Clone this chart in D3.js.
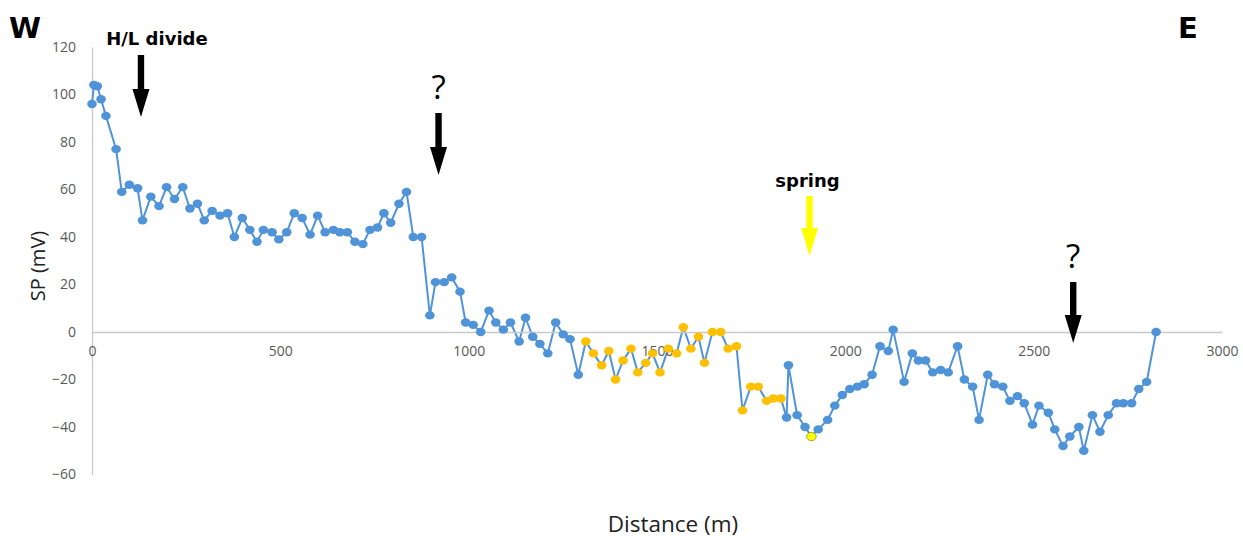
<!DOCTYPE html>
<html><head><meta charset="utf-8">
<script src="https://cdn.jsdelivr.net/npm/d3@7/dist/d3.min.js"></script>
<style>
html,body{margin:0;padding:0;background:#fff;}
svg{display:block;}
</style></head>
<body>
<svg id="chart" width="1243" height="539"></svg>
<script>
// ---- data ----
const distance = [0,5,14,24,37,64,79,99,121,134,156,178,198,219,241,260,280,298,319,340,360,378,399,419,438,455,478,496,517,537,558,579,599,619,641,658,678,698,719,738,758,775,793,815,835,853,875,897,912,935,955,977,992,1012,1032,1054,1072,1092,1111,1134,1151,1170,1189,1210,1231,1251,1269,1291,1311,1331,1353,1372,1390,1410,1431,1449,1470,1488,1508,1530,1552,1570,1590,1610,1626,1647,1669,1689,1711,1727,1749,1769,1791,1809,1829,1844,1849,1872,1893,1910,1928,1953,1972,1992,2012,2032,2050,2071,2092,2114,2127,2156,2178,2194,2213,2232,2253,2273,2298,2316,2338,2355,2378,2396,2418,2437,2457,2475,2497,2514,2539,2556,2578,2596,2620,2633,2656,2676,2698,2720,2738,2760,2779,2800,2825];
const sp = [96,104,103.5,98,91,77,59,62,60.5,47,57,53,61,56,61,52,54,47,51,49,50,40,48,43,38,43,42,39,42,50,48,41,49,42,43,42,42,38,37,43,44,50,46,54,59,40,40,7,21,21,23,17,4,3,0,9,4,1,4,-4,6,-2,-5,-9,4,-1,-3,-18,-4,-9,-14,-8,-20,-12,-7,-17,-13,-9,-17,-7,-9,2,-7,-2,-13,0,0,-7,-6,-33,-23,-23,-29,-28,-28,-36,-14,-35,-40,-44,-41,-37,-31,-26.5,-24,-23,-22,-18,-6,-8,1,-21,-9,-12,-12,-17,-16,-17,-6,-20,-23,-37,-18,-22,-23,-29,-27,-30,-39,-31,-34,-41,-48,-44,-40,-50,-35,-42,-35,-30,-30,-30,-24,-21,0];
// marker group per point: 'b' blue, 'o' orange section, 'y' spring point
const markerGroup = distance.map((d,i)=> i===99 ? 'y' : (i>=68 && i<=94 ? 'o' : 'b'));
const xTicks = [0,500,1000,1500,2000,2500,3000];
const yTicks = [-60,-40,-20,0,20,40,60,80,100,120];
const annotations = [
  {label:"H/L divide", x:130, kind:"bold", color:"#000"},
  {label:"?", x:920, kind:"q", color:"#000"},
  {label:"spring", x:1905, kind:"bold", color:"#ffff00"},
  {label:"?", x:2605, kind:"q", color:"#000"}
];

// ---- drawing ----
const svg = d3.select("#chart");
const x = d3.scaleLinear().domain([0,3000]).range([92,1222]);
const y = d3.scaleLinear().domain([-60,120]).range([474.5,47]);

const blue = "#4f93d8";
const markerFill = {b:blue, o:"#ffc000", y:"#ffff00"};
const tickFont = "'Open Sans', sans-serif";

// y axis
const yAxis = svg.append("g").attr("transform",`translate(${x(0)},0)`)
  .call(d3.axisLeft(y).tickValues(yTicks).tickSize(0).tickPadding(16).tickFormat(d3.format("d")));
yAxis.select(".domain").attr("stroke","#c9c9c9").attr("stroke-width",1.3);
yAxis.selectAll("text").attr("font-family",tickFont).attr("font-size",14).attr("fill","#595959");

// series line
const pts = distance.map((d,i)=>({d, v:sp[i], g:markerGroup[i]}));
svg.append("path").datum(pts)
  .attr("fill","none").attr("stroke",blue).attr("stroke-width",2)
  .attr("d", d3.line().x(p=>x(p.d)).y(p=>y(p.v)));

// x axis at y=0
const xAxis = svg.append("g").attr("transform",`translate(0,${y(0)})`)
  .call(d3.axisBottom(x).tickValues(xTicks).tickSize(0).tickPadding(14).tickFormat(d3.format("d")));
xAxis.select(".domain").attr("stroke","#c9c9c9").attr("stroke-width",1.3);
xAxis.selectAll("text").attr("font-family",tickFont).attr("font-size",14).attr("fill","#595959");

// markers
svg.append("g").selectAll("ellipse").data(pts).join("ellipse")
  .attr("cx",p=>x(p.d)).attr("cy",p=>y(p.v))
  .attr("rx",4.8).attr("ry",4.2)
  .attr("fill",p=>markerFill[p.g])
  .attr("stroke",p=>p.g==='y' ? "#8c8c3a" : "none")
  .attr("stroke-width",0.8);

// axis titles
svg.append("text").attr("transform","translate(45,266) rotate(-90)")
  .attr("text-anchor","middle").attr("font-family",tickFont).attr("font-size",20).attr("fill","#222")
  .text("SP (mV)");
svg.append("text").attr("x",673).attr("y",532)
  .attr("text-anchor","middle").attr("font-family",tickFont).attr("font-size",22.5).attr("fill","#222")
  .text("Distance (m)");

// W / E
svg.append("text").attr("x",9).attr("y",38).attr("font-family","'DejaVu Sans', sans-serif")
  .attr("font-weight","bold").attr("font-size",29).text("W");
svg.append("text").attr("x",1178).attr("y",38).attr("font-family","'DejaVu Sans', sans-serif")
  .attr("font-weight","bold").attr("font-size",29).text("E");

// annotation arrows
function arrow(cx, top, tip, color){
  const headStart = tip - 28, hw = 8.5, sw = 3.2;
  svg.append("path")
    .attr("d",`M${cx-sw},${top} L${cx+sw},${top} L${cx+sw},${headStart} L${cx+hw},${headStart} L${cx},${tip} L${cx-hw},${headStart} L${cx-sw},${headStart} Z`)
    .attr("fill",color);
}
// text y, text x offset, arrow top, arrow tip
const annPos = {"H/L divide":[45,16,55,117], "spring":[187,-2,196,256]};
annotations.forEach((a,i)=>{
  const cx = x(a.x);
  if(a.kind==="bold"){
    const [ty,dx,top,tip] = annPos[a.label];
    svg.append("text").attr("x",cx+dx).attr("y",ty).attr("text-anchor","middle")
      .attr("font-family","'DejaVu Sans', sans-serif").attr("font-weight","bold").attr("font-size",18)
      .attr("fill","#000").text(a.label);
    arrow(cx, top, tip, a.color);
  } else {
    const base = i===1 ? [99,113,175] : [268,282,343];
    svg.append("text").attr("x",cx).attr("y",base[0]).attr("text-anchor","middle")
      .attr("font-family","'Open Sans', sans-serif").attr("font-size",33).attr("fill","#000").text(a.label);
    arrow(cx, base[1], base[2], a.color);
  }
});
</script>
</body></html>
